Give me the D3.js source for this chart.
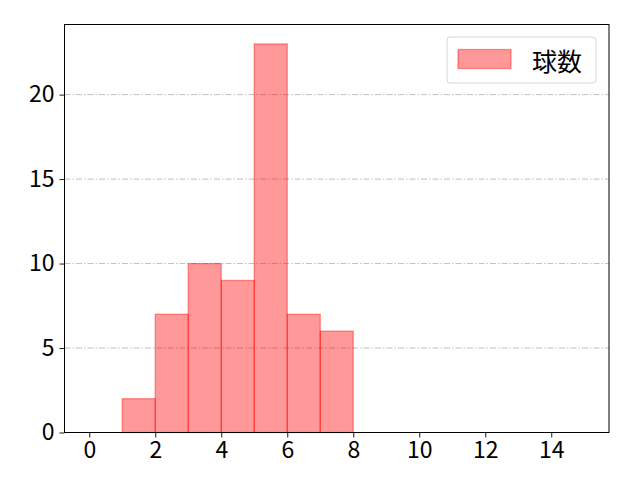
<!DOCTYPE html>
<html>
<head>
<meta charset="utf-8">
<script src="https://cdn.jsdelivr.net/npm/d3@7"></script>
<style>
  body { margin: 0; background: #fff; }
  text { font-family: "Noto Sans CJK JP", "Noto Sans", sans-serif; fill: #000; }
</style>
</head>
<body>
<div class="chart"></div>
<script>
// histogram bins (left edges) and counts
const binStarts = [1, 2, 3, 4, 5, 6, 7];
const binWidth = 1;
const counts = [2, 7, 10, 9, 23, 7, 6];
const xTicks = [0, 2, 4, 6, 8, 10, 12, 14];
const yTicks = [0, 5, 10, 15, 20];
const seriesName = "球数";

function main(){
    const width = 640, height = 480;
    const margin = ({top: 24.5, right: 31, bottom: 47.5, left: 64.5});
    const w = width - margin.left - margin.right;
    const h = height - margin.top - margin.bottom;

    const svg = d3.select('.chart')
                    .append('svg')
                    .attr("width", width)
                    .attr("height", height)
                    .append("g")
                    .attr("transform", "translate(" + margin.left + "," + margin.top + ")");

    const xScale = d3.scaleLinear()
                    .domain([-0.75, 15.75])
                    .range([0, w]);

    const yScale = d3.scaleLinear()
                    .domain([0, d3.max(counts) * 1.05])
                    .range([h, 0]);

    const bins = binStarts.map((s, i) => ({x0: s, x1: s + binWidth, n: counts[i]}));

    // grid lines
    svg.selectAll(".grid")
        .data(yTicks)
        .enter()
        .append("line")
        .attr("x1", 0)
        .attr("x2", w)
        .attr("y1", d => yScale(d))
        .attr("y2", d => yScale(d))
        .attr("stroke", "#b0b0b0")
        .attr("stroke-width", 0.8)
        .attr("stroke-dasharray", "6,2,1.5,2");

    svg.selectAll(".bar")
        .data(bins)
        .enter()
        .append("rect")
        .attr("x", d => xScale(d.x0))
        .attr("y", d => yScale(d.n))
        .attr("width", d => xScale(d.x1) - xScale(d.x0))
        .attr("height", d => yScale(0) - yScale(d.n))
        .attr("fill", "red")
        .attr("fill-opacity", 0.4)
        .attr("stroke", "red")
        .attr("stroke-opacity", 0.4)
        .attr("stroke-width", 1.3);

    const xAxis = d3.axisBottom(xScale)
        .tickValues(xTicks)
        .tickSize(5)
        .tickPadding(4)
        .tickSizeOuter(0);

    const yAxis = d3.axisLeft(yScale)
        .tickValues(yTicks)
        .tickSize(5)
        .tickPadding(5)
        .tickSizeOuter(0);

    const gx = svg.append("g")
        .attr("class", "axis x-axis")
        .attr("transform", `translate(0, ${h})`)
        .call(xAxis);

    const gy = svg.append("g")
        .attr("class", "axis y-axis")
        .call(yAxis);

    [gx, gy].forEach(g => {
        g.select(".domain").remove();
        g.selectAll("line").attr("stroke", "#000").attr("stroke-width", 0.9);
        g.selectAll("text")
            .style("font-family", '"Noto Sans CJK JP", sans-serif')
            .style("font-size", "23px")
            .attr("fill", "#000");
    });

    // frame
    svg.append("rect")
        .attr("x", 0)
        .attr("y", 0)
        .attr("width", w)
        .attr("height", h)
        .attr("fill", "none")
        .attr("stroke", "#000")
        .attr("stroke-width", 1);

    // legend
    const legend = svg.append("g")
        .attr("transform", `translate(${w - 162}, 12.5)`);

    legend.append("rect")
        .attr("x", 0)
        .attr("y", 0)
        .attr("width", 149)
        .attr("height", 46)
        .attr("rx", 3)
        .attr("fill", "#fff")
        .attr("fill-opacity", 0.8)
        .attr("stroke", "#d6d6d6")
        .attr("stroke-width", 1);

    legend.append("rect")
        .attr("x", 11)
        .attr("y", 12.5)
        .attr("width", 53)
        .attr("height", 19)
        .attr("fill", "red")
        .attr("fill-opacity", 0.4)
        .attr("stroke", "red")
        .attr("stroke-opacity", 0.4)
        .attr("stroke-width", 1.3);

    legend.append("text")
        .attr("x", 85)
        .attr("y", 23)
        .attr("dominant-baseline", "central")
        .style("font-size", "25px")
        .text(seriesName);
}

main();
</script>
</body>
</html>
